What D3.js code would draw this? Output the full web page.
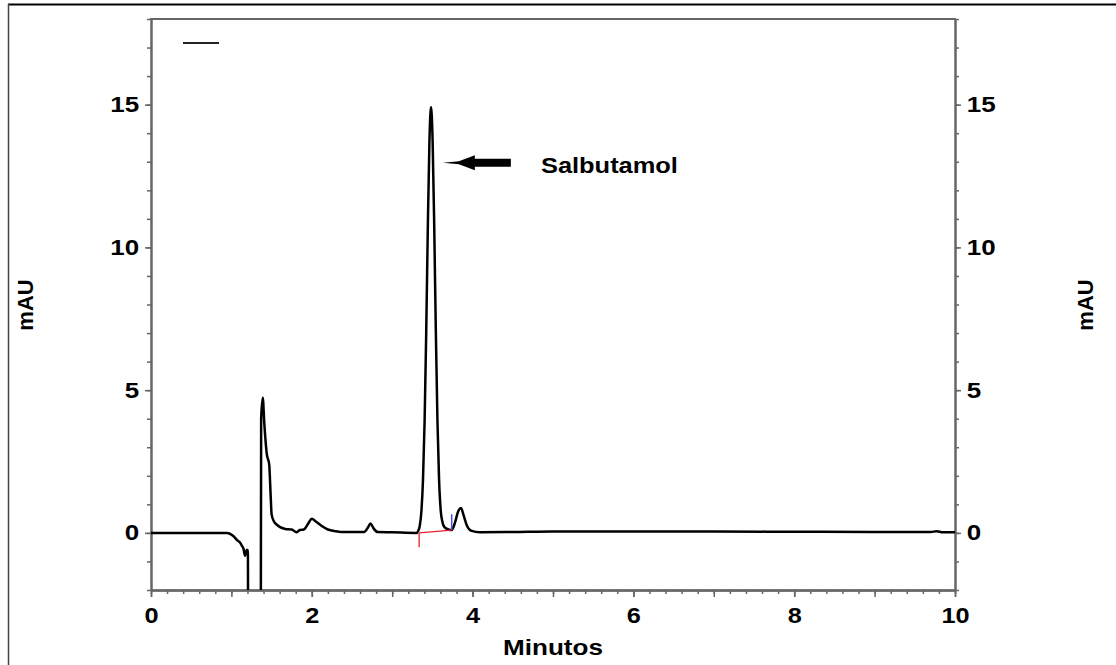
<!DOCTYPE html>
<html>
<head>
<meta charset="utf-8">
<script src="https://cdn.jsdelivr.net/npm/d3@7"></script>
<style>
  body { margin: 0; background: #fff; }
  text { font-family: "Liberation Sans", Arial, sans-serif; font-weight: bold; }
</style>
</head>
<body>
<svg id="chart" width="1116" height="665"></svg>
<script>
// retention time (min) and absorbance (mAU)
const times = [0, 0.5, 0.9, 0.95, 1.02, 1.07, 1.11, 1.13, 1.15, 1.17, 1.19, 1.205, 1.215, 1.355,
  1.37, 1.39, 1.41, 1.44, 1.47, 1.49, 1.50, 1.53, 1.56, 1.67, 1.75, 1.81, 1.85, 1.9, 1.96, 2.0,
  2.05, 2.12, 2.2, 2.3, 2.4, 2.65, 2.70, 2.73, 2.77, 2.82, 3.0, 3.3, 3.323, 3.343, 3.363, 3.383,
  3.403, 3.423, 3.443, 3.463, 3.483, 3.503, 3.523, 3.543, 3.563, 3.583, 3.603, 3.623, 3.65, 3.7,
  3.74, 3.78, 3.82, 3.856, 3.89, 3.93, 3.98, 4.09, 4.5, 5, 6, 7, 8, 9, 9.7, 9.77, 9.85, 10];
const signal = [0, 0, 0, 0, -0.1, -0.25, -0.35, -0.45, -0.55, -0.8, -0.6, -0.6, -20, -20,
  4.0, 4.73, 3.8, 2.77, 2.4, 1.2, 0.65, 0.4, 0.3, 0.14, 0.12, 0.02, 0.1, 0.12, 0.35, 0.5,
  0.4, 0.25, 0.12, 0.06, 0.03, 0.03, 0.2, 0.33, 0.15, 0.03, 0.02, 0.0, 0.07, 0.25, 0.75, 1.86,
  3.9, 7.0, 10.7, 13.7, 14.92, 13.7, 10.7, 7.0, 3.9, 1.86, 0.8, 0.4, 0.2, 0.12,
  0.1, 0.35, 0.75, 0.87, 0.6, 0.25, 0.08, 0.02, 0.03, 0.05, 0.05, 0.05, 0.04, 0.03, 0.03, 0.06, 0.02, 0.02];

// integration marks for the salbutamol peak
const baseTimes = [3.335, 3.74];
const baseValues = [0, 0.1];
const startTick = [0, -0.5];
const splitMark = [0.1, 0.65];

const xTicks = [0, 2, 4, 6, 8, 10];
const yTicks = [0, 5, 10, 15];
const xDomain = [0, 10];
const yDomain = [-2, 18];

const peakLabel = "Salbutamol";
const peakLabelAt = [4.85, 13];

const margin = { top: 19, right: 161, bottom: 75, left: 151 };
const W = 1116, H = 665;
const width = W - margin.left - margin.right;
const height = H - margin.top - margin.bottom;

const svg = d3.select("#chart");

// page frame (cropped from a document)
svg.append("line").attr("x1", 8).attr("x2", W).attr("y1", 4.5).attr("y2", 4.5)
  .attr("stroke", "#000").attr("stroke-width", 2);
svg.append("line").attr("x1", 8.5).attr("x2", 8.5).attr("y1", 4).attr("y2", H)
  .attr("stroke", "#444").attr("stroke-width", 1.5);

const g = svg.append("g").attr("transform", `translate(${margin.left},${margin.top})`);

const x = d3.scaleLinear().domain(xDomain).range([0, width]);
const y = d3.scaleLinear().domain(yDomain).range([height, 0]);

g.append("clipPath").attr("id", "plot-clip")
  .append("rect").attr("width", width).attr("height", height);

const axisColor = "#666";

function styleAxis(sel) {
  sel.select(".domain").attr("stroke", axisColor).attr("stroke-width", 2);
  sel.selectAll(".tick line").attr("stroke", axisColor).attr("stroke-width", 1.5);
  sel.selectAll(".tick text").attr("fill", "#000")
    .style("font-size", "22px").style("font-family", "Liberation Sans, Arial, sans-serif")
    .style("font-weight", "bold");
}

// minor ticks
const xMinor = d3.range(0, 10.001, 0.2).map(v => +v.toFixed(1));
g.append("g").attr("transform", `translate(0,${height})`)
  .call(d3.axisBottom(x).tickValues(xMinor).tickSize(4).tickFormat("").tickSizeOuter(0))
  .call(styleAxis);
g.append("g").attr("transform", `translate(0,${height})`)
  .call(d3.axisBottom(x).tickValues(d3.range(0, 11, 1)).tickSize(7).tickFormat("").tickSizeOuter(0))
  .call(styleAxis);
g.append("g").attr("transform", `translate(0,${height})`)
  .call(d3.axisBottom(x).tickValues(xTicks).tickSize(7).tickPadding(10).tickSizeOuter(0))
  .call(styleAxis)
  .call(s => s.selectAll(".tick text").attr("transform", "scale(1.15,1)"));

const yMinor = d3.range(-2, 18.001, 1);
[["left", d3.axisLeft, 0], ["right", d3.axisRight, width]].forEach(([side, ax, pos]) => {
  g.append("g").attr("transform", `translate(${pos},0)`)
    .call(ax(y).tickValues(yMinor).tickSize(4).tickFormat("").tickSizeOuter(0))
    .call(styleAxis);
  g.append("g").attr("transform", `translate(${pos},0)`)
    .call(ax(y).tickValues(yTicks).tickSize(6).tickPadding(4).tickSizeOuter(0))
    .call(styleAxis)
    .call(s => s.selectAll(".tick text").attr("transform", "scale(1.18,1)"));
});

// top frame
g.append("line").attr("x1", -1).attr("x2", width + 1).attr("y1", 0).attr("y2", 0)
  .attr("stroke", axisColor).attr("stroke-width", 2);

// legend dash
svg.append("line").attr("x1", 183).attr("x2", 219).attr("y1", 43).attr("y2", 43)
  .attr("stroke", "#222").attr("stroke-width", 2);

// trace
const trace = times.map((t, i) => [t, signal[i]]);
g.append("path").datum(trace)
  .attr("clip-path", "url(#plot-clip)")
  .attr("fill", "none").attr("stroke", "#000").attr("stroke-width", 2.5)
  .attr("stroke-linejoin", "round")
  .attr("d", d3.line().x(d => x(d[0])).y(d => y(d[1])).curve(d3.curveMonotoneX));

// integration baseline (red) and split mark (blue)
g.append("line")
  .attr("x1", x(baseTimes[0])).attr("x2", x(baseTimes[1]))
  .attr("y1", y(baseValues[0])).attr("y2", y(baseValues[1]))
  .attr("stroke", "#e8202a").attr("stroke-width", 1.3);
g.append("line")
  .attr("x1", x(baseTimes[0])).attr("x2", x(baseTimes[0]))
  .attr("y1", y(startTick[0])).attr("y2", y(startTick[1]))
  .attr("stroke", "#e8202a").attr("stroke-width", 1.3);
g.append("line")
  .attr("x1", x(baseTimes[1])).attr("x2", x(baseTimes[1]))
  .attr("y1", y(splitMark[0])).attr("y2", y(splitMark[1]))
  .attr("stroke", "#4a4ae8").attr("stroke-width", 1.5);

// arrow pointing at the main peak
const ax0 = x(3.63), ay = y(peakLabelAt[1]) + 1;
g.append("path")
  .attr("d", `M${ax0},${ay} L${ax0 + 16},${ay - 1.5} L${ax0 + 32},${ay - 7.5} L${ax0 + 32},${ay - 4}
    L${ax0 + 68},${ay - 4} L${ax0 + 68},${ay + 4} L${ax0 + 32},${ay + 4} L${ax0 + 32},${ay + 7.5}
    L${ax0 + 16},${ay + 1.5} Z`)
  .attr("fill", "#000");

g.append("text")
  .attr("x", x(peakLabelAt[0])).attr("y", ay + 10)
  .attr("textLength", 137).attr("lengthAdjust", "spacingAndGlyphs")
  .style("font-size", "22px").text(peakLabel);

// axis titles
svg.append("text").attr("x", margin.left + width / 2).attr("y", 655)
  .attr("text-anchor", "middle").attr("textLength", 100).attr("lengthAdjust", "spacingAndGlyphs")
  .style("font-size", "22px").text("Minutos");
svg.append("text").attr("transform", `translate(33,305) rotate(-90)`)
  .attr("text-anchor", "middle").style("font-size", "22px").text("mAU");
svg.append("text").attr("transform", `translate(1093,305) rotate(-90)`)
  .attr("text-anchor", "middle").style("font-size", "22px").text("mAU");
</script>
</body>
</html>
